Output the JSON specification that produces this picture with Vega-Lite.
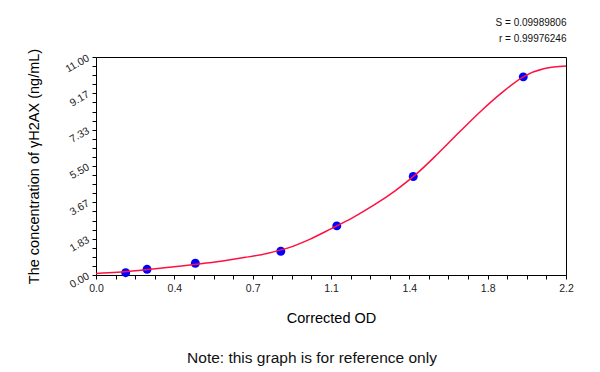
{
  "$schema": "https://vega.github.io/schema/vega-lite/v6.json",
  "autosize": "none",
  "width": 470,
  "height": 218,
  "padding": {"left": 96, "top": 57, "right": 34, "bottom": 97},
  "background": "white",
  "config": {
    "view": {"stroke": null},
    "font": "Liberation Sans",
    "axis": {"grid": false, "domainColor": "#000000", "tickColor": "#000000", "labelColor": "#222222", "titleColor": "#000000", "labelFont": "Liberation Sans", "titleFont": "Liberation Sans", "titleFontWeight": "normal"}
  },
  "title": {
    "text": "Note: this graph is for reference only",
    "orient": "bottom",
    "anchor": "middle",
    "fontSize": 15.5,
    "fontWeight": "normal",
    "font": "Liberation Sans",
    "color": "#111111",
    "dx": -19,
    "offset": 26
  },
  "datasets": {
    "points": [
      {"od": 0.139, "conc": 0.116},
      {"od": 0.239, "conc": 0.288},
      {"od": 0.465, "conc": 0.592},
      {"od": 0.865, "conc": 1.199},
      {"od": 1.127, "conc": 2.478},
      {"od": 1.485, "conc": 4.972},
      {"od": 2.0, "conc": 9.998}
    ],
    "curve": [
      {"od": 0.0, "conc": 0.08},
      {"od": 0.1, "conc": 0.14},
      {"od": 0.2, "conc": 0.23},
      {"od": 0.3, "conc": 0.34},
      {"od": 0.4, "conc": 0.45},
      {"od": 0.5, "conc": 0.58},
      {"od": 0.6, "conc": 0.72},
      {"od": 0.7, "conc": 0.89},
      {"od": 0.8, "conc": 1.09},
      {"od": 0.9, "conc": 1.37},
      {"od": 1.0, "conc": 1.8},
      {"od": 1.1, "conc": 2.33},
      {"od": 1.2, "conc": 2.88},
      {"od": 1.3, "conc": 3.52},
      {"od": 1.4, "conc": 4.25},
      {"od": 1.5, "conc": 5.1},
      {"od": 1.6, "conc": 6.12},
      {"od": 1.7, "conc": 7.2},
      {"od": 1.8, "conc": 8.25},
      {"od": 1.9, "conc": 9.2},
      {"od": 2.0, "conc": 10.0},
      {"od": 2.1, "conc": 10.42},
      {"od": 2.2, "conc": 10.54}
    ]
  },
  "resolve": {"axis": {"x": "independent", "y": "independent"}},
  "layer": [
    {
      "data": {"name": "points"},
      "mark": {"type": "circle", "size": 80, "color": "#0000ff", "opacity": 1},
      "encoding": {
        "x": {
          "field": "od", "type": "quantitative",
          "scale": {"domain": [0, 2.2], "nice": false, "zero": false},
          "axis": {
            "orient": "bottom",
            "title": "Corrected OD",
            "titleFontSize": 14.5,
            "titlePadding": 18,
            "values": [0, 0.091667, 0.183333, 0.275, 0.366667, 0.458333, 0.55, 0.641667, 0.733333, 0.825, 0.916667, 1.008333, 1.1, 1.191667, 1.283333, 1.375, 1.466667, 1.558333, 1.65, 1.741667, 1.833333, 1.925, 2.016667, 2.108333, 2.2],
            "labelExpr": "abs(datum.value*24/2.2 - round(datum.value*24/2.2/4)*4) < 0.01 ? ['0.0','0.4','0.7','1.1','1.4','1.8','2.2'][round(datum.value/2.2*6)] : ''",
            "labelOverlap": false,
            "labelFlush": false,
            "labelFontSize": 10.5,
            "labelPadding": 4,
            "tickSize": 4
          }
        },
        "y": {
          "field": "conc", "type": "quantitative",
          "scale": {"domain": [0, 11], "nice": false, "zero": false},
          "axis": {
            "orient": "left",
            "title": "The concentration of γH2AX (ng/mL)",
            "titleFontSize": 14.5,
            "titlePadding": 22,
            "values": [0, 0.458333, 0.916667, 1.375, 1.833333, 2.291667, 2.75, 3.208333, 3.666667, 4.125, 4.583333, 5.041667, 5.5, 5.958333, 6.416667, 6.875, 7.333333, 7.791667, 8.25, 8.708333, 9.166667, 9.625, 10.083333, 10.541667, 11],
            "labelExpr": "abs(datum.value*24/11 - round(datum.value*24/11/4)*4) < 0.01 ? format(datum.value, '.2f') : ''",
            "labelOverlap": false,
            "labelFlush": false,
            "labelAngle": -30,
            "labelAlign": "right",
            "labelBaseline": "middle",
            "labelFontSize": 10.5,
            "labelPadding": 4,
            "tickSize": 4
          }
        }
      }
    },
    {
      "data": {"name": "curve"},
      "mark": {"type": "line", "color": "#ff1040", "strokeWidth": 1.5, "interpolate": "monotone"},
      "encoding": {
        "x": {
          "field": "od", "type": "quantitative",
          "axis": {
            "orient": "top",
            "labels": false,
            "ticks": false,
            "title": ["S = 0.09989806", "r = 0.99976246"],
            "titleFontSize": 10,
            "titleLineHeight": 16,
            "titleAnchor": "end",
            "titleAlign": "right",
            "titlePadding": 14,
            "titleColor": "#111111"
          }
        },
        "y": {
          "field": "conc", "type": "quantitative",
          "axis": {"orient": "right", "labels": false, "ticks": false, "title": null}
        }
      }
    }
  ]
}
